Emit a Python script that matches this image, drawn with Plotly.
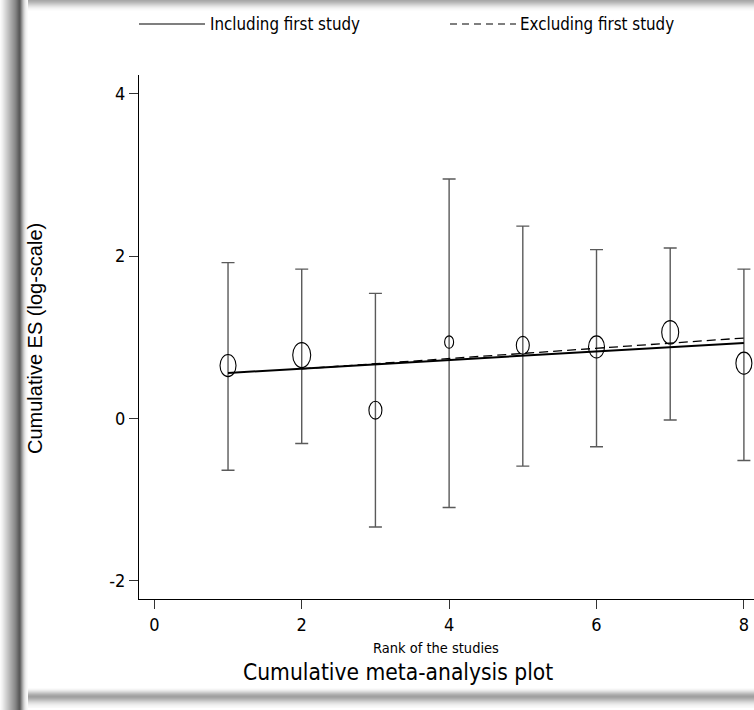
import plotly.graph_objects as go

# Cumulative meta-analysis: study rank, cumulative effect size (log scale) and 95% CI
rank = [1, 2, 3, 4, 5, 6, 7, 8]
es = [0.65, 0.78, 0.10, 0.94, 0.90, 0.88, 1.06, 0.68]
ci_upper = [1.92, 1.84, 1.54, 2.95, 2.37, 2.08, 2.10, 1.84]
ci_lower = [-0.64, -0.31, -1.34, -1.10, -0.59, -0.35, -0.02, -0.52]
weight = [16, 18, 13, 9, 13, 16, 17, 16]

# fitted trend lines (end points)
incl_x = [1, 8]
incl_y = [0.56, 0.93]
excl_x = [2, 8]
excl_y = [0.61, 0.99]

x_ticks = [0, 2, 4, 6, 8]
y_ticks = [-2, 0, 2, 4]

W, H = 754, 710
ML, MR, MT, MB = 139, 0, 75, 111
PW, PH = W - ML - MR, H - MT - MB

NARROW = "Liberation Sans Narrow, Arial Narrow, DejaVu Sans Condensed, sans-serif"
REG = "Liberation Sans, Arial, Helvetica, sans-serif"


def px(xp):
    return (xp - ML) / PW


def py(yp):
    return (H - MB - yp) / PH


fig = go.Figure()

fig.add_trace(go.Scatter(
    x=rank, y=es, mode="markers",
    marker=dict(size=1, color="rgba(0,0,0,0)"),
    error_y=dict(type="data", symmetric=False,
                 array=[u - e for u, e in zip(ci_upper, es)],
                 arrayminus=[e - l for e, l in zip(es, ci_lower)],
                 color="#5a5a5a", thickness=1.4, width=6.5),
    showlegend=False, hoverinfo="skip",
))

fig.add_trace(go.Scatter(
    x=incl_x, y=incl_y, mode="lines",
    line=dict(color="black", width=2), showlegend=False,
))
fig.add_trace(go.Scatter(
    x=excl_x, y=excl_y, mode="lines",
    line=dict(color="black", width=1.3, dash="9px,5px"), showlegend=False,
))

shapes = []
# hollow weighted markers (slightly taller than wide)
for r, e, w in zip(rank, es, weight):
    h = w * 1.38
    shapes.append(dict(
        type="circle", xref="x", yref="y",
        xsizemode="pixel", ysizemode="pixel",
        xanchor=r, yanchor=e,
        x0=-w / 2, x1=w / 2, y0=-h / 2, y1=h / 2,
        line=dict(color="black", width=1.1), fillcolor="rgba(0,0,0,0)",
        layer="above",
    ))

# legend samples
shapes.append(dict(type="line", xref="paper", yref="paper",
                   x0=px(139), x1=px(205), y0=py(24), y1=py(24),
                   line=dict(color="black", width=1.2)))
shapes.append(dict(type="line", xref="paper", yref="paper",
                   x0=px(450), x1=px(516), y0=py(24), y1=py(24),
                   line=dict(color="black", width=1.2, dash="7px,5px")))


# window frame shading
def band(x0, x1, y0, y1, c):
    shapes.append(dict(type="rect", xref="paper", yref="paper",
                       x0=px(x0), x1=px(x1), y0=py(y0), y1=py(y1),
                       line=dict(width=0), fillcolor=c, layer="below"))


top_shade = ["#a8a8a8", "#b0b0b0", "#b9b9b9", "#c4c4c4", "#cfcfcf", "#dadada",
             "#e4e4e4", "#ededed", "#f4f4f4", "#f9f9f9", "#fcfcfc"]
for i, c in enumerate(top_shade):
    band(20, W, i, i + 1, c)
bot_shade = ["#fbfbfb", "#f4f4f4", "#e9e9e9", "#dcdcdc", "#cdcdcd", "#bebebe",
             "#b0b0b0", "#a6a6a6", "#a0a0a0", "#a4a4a4", "#adadad", "#b8b8b8",
             "#c4c4c4", "#d0d0d0", "#dbdbdb", "#e4e4e4", "#ececec", "#f2f2f2",
             "#f6f6f6", "#f9f9f9"]
for i, c in enumerate(bot_shade):
    band(20, W, 688 + i, 689 + i, c)
left_shade = ["#fafafa", "#f4f4f4", "#eeeeee", "#e6e6e6", "#dedede", "#d6d6d6",
              "#cecece", "#c6c6c6", "#bebebe", "#b6b6b6", "#aeaeae", "#a6a6a6",
              "#9e9e9e", "#969696", "#8e8e8e", "#858585", "#7a7a7a", "#6e6e6e",
              "#626262", "#5a5a5a", "#6a6a6a", "#8a8a8a", "#a8a8a8", "#c4c4c4",
              "#dadada", "#eaeaea", "#f4f4f4", "#fafafa"]
for i, c in enumerate(left_shade):
    band(i, i + 1, 0, H, c)

annotations = [
    dict(text="Including first study", x=px(208), y=py(24), xref="paper", yref="paper",
         xanchor="left", yanchor="middle", showarrow=False,
         font=dict(family=NARROW, size=16.8, color="black")),
    dict(text="Excluding first study", x=px(518), y=py(24), xref="paper", yref="paper",
         xanchor="left", yanchor="middle", showarrow=False,
         font=dict(family=NARROW, size=16.8, color="black")),
    dict(text="Cumulative ES (log-scale)", x=px(35), y=py(339), xref="paper", yref="paper",
         xanchor="center", yanchor="middle", textangle=-90, showarrow=False,
         font=dict(family=REG, size=20, color="black")),
    dict(text="Rank of the studies", x=px(436), y=py(648), xref="paper", yref="paper",
         xanchor="center", yanchor="middle", showarrow=False,
         font=dict(family=NARROW, size=14.5, color="black")),
    dict(text="Cumulative meta-analysis plot", x=px(398), y=py(672), xref="paper", yref="paper",
         xanchor="center", yanchor="middle", showarrow=False,
         font=dict(family=NARROW, size=22.6, color="black")),
]

fig.update_layout(
    width=W, height=H,
    margin=dict(l=ML, r=MR, t=MT, b=MB, pad=0),
    paper_bgcolor="white", plot_bgcolor="white",
    shapes=shapes, annotations=annotations,
    xaxis=dict(range=[-0.208, 8.137], tickvals=x_ticks, ticktext=[str(v) for v in x_ticks],
               showgrid=False, zeroline=False, showline=True, linecolor="black", linewidth=1,
               ticks="outside", ticklen=9, tickcolor="#333333", tickwidth=1,
               tickfont=dict(family=NARROW, size=18, color="black")),
    yaxis=dict(range=[-2.228, 4.233], tickvals=y_ticks, ticktext=[str(v) for v in y_ticks],
               showgrid=False, zeroline=False, showline=True, linecolor="black", linewidth=1,
               ticks="outside", ticklen=9, tickcolor="#333333", tickwidth=1,
               tickfont=dict(family=NARROW, size=18, color="black")),
)

fig.write_html("out.html")
